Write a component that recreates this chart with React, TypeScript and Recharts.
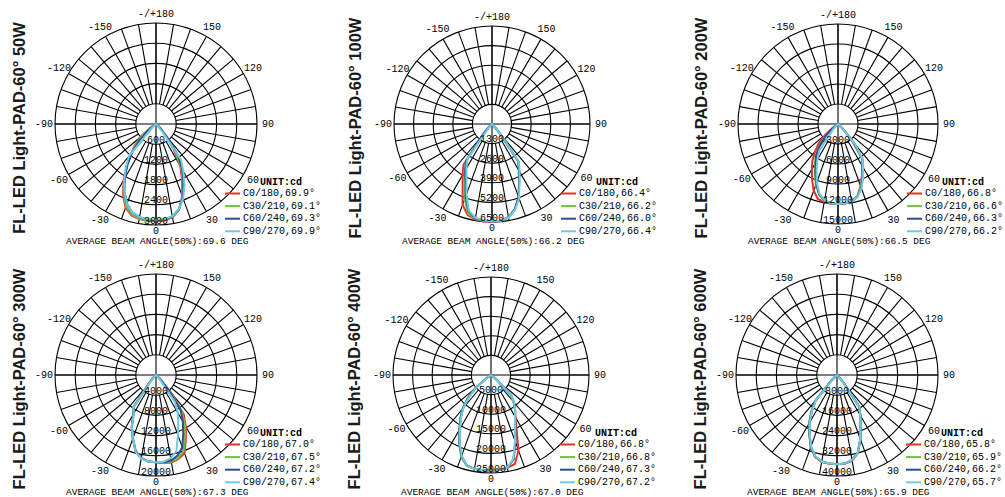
import React from 'react';
import { RadarChart, Radar, PolarGrid, PolarAngleAxis, PolarRadiusAxis } from 'recharts';

// gamma angles of the measured points (deg, 0 = straight down)
const ANGLES = [-60, -55, -50, -45, -40, -35, -30, -25, -20, -15, -10, -5, 0, 5, 10, 15, 20, 25, 30, 35, 40, 45, 50, 55, 60];
const GRID_ANGLES = [-180, -170, -160, -150, -140, -130, -120, -110, -100, -90, -80, -70, -60, -50, -40, -30, -20, -10, 0, 10, 20, 30, 40, 50, 60, 70, 80, 90, 100, 110, 120, 130, 140, 150, 160, 170];
const MAIN_AXES = [-180, -90, 0, 90];

const SERIES_KEYS = ['c0', 'c30', 'c60', 'c90'];
const SERIES_NAMES = ['C0/180', 'C30/210', 'C60/240', 'C90/270'];
const SERIES_COLORS = ['#e8312c', '#72c043', '#2c4a9e', '#6ccbe2'];

const TITLES = [
    'FL-LED Light-PAD-60° 50W',
    'FL-LED Light-PAD-60° 100W',
    'FL-LED Light-PAD-60° 200W',
    'FL-LED Light-PAD-60° 300W',
    'FL-LED Light-PAD-60° 400W',
    'FL-LED Light-PAD-60° 600W',
];

const P1_TICKS = [600, 1200, 1800, 2400, 3000];
const P2_TICKS = [1300, 2600, 3900, 5200, 6500];
const P3_TICKS = [3000, 6000, 9000, 12000, 15000];
const P4_TICKS = [4000, 8000, 12000, 16000, 20000];
const P5_TICKS = [5000, 10000, 15000, 20000, 25000];
const P6_TICKS = [8000, 16000, 24000, 32000, 40000];

const P1_BEAM = [69.9, 69.1, 69.3, 69.9];
const P2_BEAM = [66.4, 66.2, 66.0, 66.4];
const P3_BEAM = [66.8, 66.6, 66.3, 66.2];
const P4_BEAM = [67.0, 67.5, 67.2, 67.4];
const P5_BEAM = [66.8, 66.8, 67.3, 67.2];
const P6_BEAM = [65.8, 65.9, 66.2, 65.7];
const AVG_BEAM = [69.6, 66.2, 66.5, 67.3, 67.0, 65.9];

// candela values at ANGLES
const P1_C0 = [0, 250, 600, 900, 1150, 1520, 1920, 2320, 2640, 2810, 2870, 2890, 2890, 2880, 2820, 2640, 2280, 1830, 1450, 900, 420, 180, 60, 0, 0];
const P1_C30 = [0, 200, 520, 850, 1120, 1500, 1890, 2280, 2600, 2780, 2850, 2870, 2870, 2860, 2800, 2640, 2300, 1880, 1500, 1000, 480, 200, 70, 0, 0];
const P1_C60 = [0, 100, 350, 700, 1100, 1480, 1850, 2220, 2520, 2720, 2810, 2850, 2860, 2850, 2790, 2630, 2330, 1930, 1560, 1150, 550, 220, 80, 0, 0];
const P1_C90 = [0, 0, 50, 200, 1250, 1560, 1880, 2220, 2520, 2720, 2810, 2840, 2850, 2840, 2780, 2620, 2360, 2000, 1620, 1300, 300, 60, 0, 0, 0];

const P2_C0 = [0, 20, 80, 250, 900, 3300, 3900, 4610, 5700, 6250, 6420, 6470, 6480, 6460, 6300, 5850, 5150, 4250, 3550, 3050, 700, 150, 40, 0, 0];
const P2_C30 = [0, 20, 80, 300, 1000, 3000, 3650, 4300, 5300, 6150, 6380, 6450, 6470, 6450, 6300, 5880, 5200, 4280, 3600, 3100, 800, 180, 40, 0, 0];
const P2_C60 = [0, 20, 100, 350, 1100, 2950, 3550, 4150, 5100, 6000, 6350, 6440, 6460, 6440, 6280, 5850, 5180, 4260, 3600, 3080, 850, 200, 50, 0, 0];
const P2_C90 = [0, 0, 50, 200, 500, 2850, 3400, 4000, 4950, 5950, 6320, 6430, 6450, 6440, 6300, 5900, 5250, 4320, 3650, 3120, 900, 150, 30, 0, 0];

const P3_C0 = [0, 800, 2500, 4100, 5300, 6700, 7850, 9200, 10650, 11650, 11900, 12000, 12000, 11950, 11750, 11200, 9900, 8500, 7200, 6300, 3200, 1000, 200, 0, 0];
const P3_C30 = [0, 500, 1800, 3000, 4400, 5900, 6900, 8200, 9700, 11000, 11700, 11950, 12000, 11950, 11780, 11250, 10000, 8600, 7300, 6350, 3600, 1100, 200, 0, 0];
const P3_C60 = [0, 400, 1500, 2800, 4200, 5700, 6700, 8000, 9500, 10900, 11650, 11950, 12000, 11950, 11800, 11300, 10200, 8800, 7400, 6350, 3800, 1000, 200, 0, 0];
const P3_C90 = [0, 0, 300, 800, 1500, 4900, 6200, 7600, 9300, 10800, 11600, 11950, 12000, 11950, 11800, 11300, 10300, 8900, 7500, 6300, 4000, 800, 100, 0, 0];

const P4_C0 = [0, 0, 300, 1000, 2500, 7800, 9000, 11400, 13500, 15600, 16700, 17200, 17300, 17500, 17600, 17200, 16500, 14000, 11800, 9600, 5000, 1500, 300, 0, 0];
const P4_C30 = [0, 0, 300, 900, 2000, 7900, 8900, 11300, 13400, 15600, 16700, 17200, 17300, 17450, 17400, 17000, 16000, 13600, 11400, 9000, 4500, 1200, 200, 0, 0];
const P4_C60 = [0, 0, 200, 800, 1800, 7900, 8900, 11300, 13300, 15600, 16700, 17200, 17300, 17350, 17200, 16500, 15200, 12800, 10600, 8500, 4000, 1000, 200, 0, 0];
const P4_C90 = [0, 0, 100, 500, 1500, 7900, 8800, 11300, 13300, 15700, 16800, 17200, 17300, 17250, 16700, 15600, 12700, 10400, 8600, 6500, 1200, 300, 0, 0, 0];

const P5_C0 = [0, 1200, 5000, 8200, 11000, 13500, 16000, 19000, 22000, 23900, 24300, 24400, 24400, 24300, 24100, 23500, 20500, 15500, 12500, 10700, 9000, 7000, 2000, 300, 0];
const P5_C30 = [0, 1500, 5500, 8500, 11400, 13800, 16200, 19300, 22200, 24000, 24300, 24400, 24400, 24300, 24000, 22200, 18000, 14600, 12300, 10700, 9000, 7200, 2000, 300, 0];
const P5_C60 = [0, 1300, 5200, 8300, 11200, 13600, 16000, 19100, 22000, 23900, 24300, 24400, 24400, 24300, 24000, 22300, 18200, 14700, 12300, 10700, 9000, 7300, 2000, 300, 0];
const P5_C90 = [0, 1000, 4800, 8000, 11000, 13400, 15800, 18900, 21900, 23900, 24300, 24400, 24400, 24300, 24000, 22100, 17900, 14500, 12250, 10700, 9100, 7300, 1800, 200, 0];

const P6_C0 = [0, 0, 500, 3000, 13000, 17500, 22000, 25900, 30500, 33600, 35000, 35300, 35300, 35300, 34500, 32000, 27200, 22000, 18600, 15500, 4000, 800, 0, 0, 0];
const P6_C30 = [0, 0, 600, 3500, 13500, 17800, 22200, 26000, 30300, 33400, 34800, 35200, 35300, 35200, 34300, 31800, 27000, 21800, 18500, 15300, 4200, 900, 0, 0, 0];
const P6_C60 = [0, 0, 500, 3200, 13200, 17500, 21900, 25800, 30200, 33400, 34800, 35200, 35300, 35200, 34200, 31700, 27000, 21800, 18500, 15400, 4300, 900, 0, 0, 0];
const P6_C90 = [0, 0, 400, 2500, 12800, 17300, 21700, 25600, 30000, 33300, 34800, 35200, 35300, 35200, 34200, 31800, 27000, 21800, 18400, 15500, 4000, 600, 0, 0, 0];

const MONO = '"Liberation Mono", "DejaVu Sans Mono", monospace';
const SANS = '"Liberation Sans", Arial, sans-serif';

const PW = 330;
const PH = 250;
const PCX = 165;
const PCY = 125;

const PANELS = [
    { cx: 156, cy: 124, r: 101, ticks: P1_TICKS, series: [P1_C0, P1_C30, P1_C60, P1_C90], beam: P1_BEAM },
    { cx: 492, cy: 124, r: 98, ticks: P2_TICKS, series: [P2_C0, P2_C30, P2_C60, P2_C90], beam: P2_BEAM },
    { cx: 838, cy: 124, r: 100, ticks: P3_TICKS, series: [P3_C0, P3_C30, P3_C60, P3_C90], beam: P3_BEAM },
    { cx: 156, cy: 375, r: 101, ticks: P4_TICKS, series: [P4_C0, P4_C30, P4_C60, P4_C90], beam: P4_BEAM },
    { cx: 491, cy: 375, r: 98, ticks: P5_TICKS, series: [P5_C0, P5_C30, P5_C60, P5_C90], beam: P5_BEAM },
    { cx: 837, cy: 375, r: 101, ticks: P6_TICKS, series: [P6_C0, P6_C30, P6_C60, P6_C90], beam: P6_BEAM },
];

function AngleTick(props: any) {
    const { x, y, payload } = props;
    const v = payload.value;
    if (v % 30 !== 0) return <g />;
    // pull the bottom/top labels a little closer to the rim
    const dy = v === 0 ? -4.5 : v === -180 ? 2 : 0;
    return (
        <text x={x} y={y + dy} textAnchor="middle" dominantBaseline="central" fontFamily={MONO} fontSize={10} fill="#000">
            {v === -180 ? '-/+180' : String(v)}
        </text>
    );
}

function RadiusTick(props: any) {
    const { x, y, payload } = props;
    return (
        <text x={x} y={y - 4} textAnchor="middle" dominantBaseline="central" fontFamily={MONO} fontSize={10} fill="#000">
            {payload.value}
        </text>
    );
}

function Panel({ idx }: { idx: number }) {
    const p = PANELS[idx];
    const data = ANGLES.map((a, i) => ({
        angle: a,
        c0: p.series[0][i],
        c30: p.series[1][i],
        c60: p.series[2][i],
        c90: p.series[3][i],
    }));
    const gridData = GRID_ANGLES.map((a) => ({ angle: a }));
    const layer: React.CSSProperties = { position: 'absolute', left: 0, top: 0 };

    return (
        <div style={{ position: 'absolute', left: p.cx - PCX, top: p.cy - PCY, width: PW, height: PH }}>
            {/* grid: rings + 10 degree spokes starting at the first ring */}
            <div style={layer}>
                <RadarChart
                    width={PW}
                    height={PH}
                    cx={PCX}
                    cy={PCY}
                    innerRadius={p.r / 5}
                    outerRadius={p.r}
                    startAngle={-270}
                    endAngle={90}
                    data={gridData}
                    margin={{ top: 0, right: 0, bottom: 0, left: 0 }}
                >
                    <PolarGrid gridType="circle" stroke="#000" strokeWidth={1.1} />
                    <PolarAngleAxis
                        dataKey="angle"
                        type="number"
                        domain={[-180, 180]}
                        allowDataOverflow
                        ticks={GRID_ANGLES}
                        tickLine={false}
                        axisLine={false}
                        tickSize={11}
                        tick={AngleTick}
                    />
                    <PolarRadiusAxis
                        type="number"
                        domain={[p.ticks[0], p.ticks[p.ticks.length - 1]]}
                        allowDataOverflow
                        ticks={p.ticks}
                        tick={false}
                        axisLine={false}
                    />
                </RadarChart>
            </div>
            {/* main axes through the centre + curves */}
            <div style={layer}>
                <RadarChart
                    width={PW}
                    height={PH}
                    cx={PCX}
                    cy={PCY}
                    innerRadius={0}
                    outerRadius={p.r}
                    startAngle={-270}
                    endAngle={90}
                    data={data}
                    margin={{ top: 0, right: 0, bottom: 0, left: 0 }}
                >
                    <PolarGrid gridType="circle" polarRadius={[]} stroke="#000" strokeWidth={1.1} />
                    <PolarAngleAxis
                        dataKey="angle"
                        type="number"
                        domain={[-180, 180]}
                        allowDataOverflow
                        ticks={MAIN_AXES}
                        tick={false}
                        tickLine={false}
                        axisLine={false}
                    />
                    <PolarRadiusAxis
                        type="number"
                        angle={-90}
                        domain={[0, p.ticks[p.ticks.length - 1]]}
                        allowDataOverflow
                        ticks={p.ticks}
                        tick={RadiusTick}
                        axisLine={false}
                    />
                    {SERIES_KEYS.map((k, i) => (
                        <Radar
                            key={k}
                            dataKey={k}
                            stroke={SERIES_COLORS[i]}
                            strokeWidth={2}
                            fill="none"
                            fillOpacity={0}
                            dot={false}
                            isAnimationActive={false}
                        />
                    ))}
                </RadarChart>
            </div>
            {/* title, unit, legend, average */}
            <svg width={PW} height={PH} style={{ ...layer, overflow: 'visible' }}>
                <text
                    x={PCX - 137}
                    y={PCY + 4}
                    transform={`rotate(-90, ${PCX - 137}, ${PCY + 4})`}
                    textAnchor="middle"
                    dominantBaseline="central"
                    fontFamily={SANS}
                    fontWeight="bold"
                    fontSize={16.5}
                    fill="#1a1a1a"
                >
                    {TITLES[idx]}
                </text>
                <text x={PCX + 104} y={PCY + 58} dominantBaseline="central" fontFamily={MONO} fontWeight="bold" fontSize={10} fill="#000">
                    UNIT:cd
                </text>
                {SERIES_NAMES.map((n, i) => {
                    const y = PCY + 69.5 + i * 12.6;
                    return (
                        <g key={n}>
                            <line x1={PCX + 69} x2={PCX + 84} y1={y} y2={y} stroke={SERIES_COLORS[i]} strokeWidth={2} />
                            <text x={PCX + 87} y={y} dominantBaseline="central" fontFamily={MONO} fontSize={10} fill="#000">
                                {`${n},${p.beam[i].toFixed(1)}°`}
                            </text>
                        </g>
                    );
                })}
                <text x={PCX - 90} y={PCY + 117.5} dominantBaseline="central" fontFamily={MONO} fontSize={9.5} fill="#000">
                    {`AVERAGE BEAM ANGLE(50%):${AVG_BEAM[idx].toFixed(1)} DEG`}
                </text>
            </svg>
        </div>
    );
}

export default function App() {
    return (
        <div
            style={{
                position: 'absolute',
                left: 0,
                top: 0,
                width: 1005,
                height: 497,
                background: '#fff',
                overflow: 'hidden',
            }}
        >
            {PANELS.map((_, i) => (
                <Panel key={i} idx={i} />
            ))}
        </div>
    );
}
